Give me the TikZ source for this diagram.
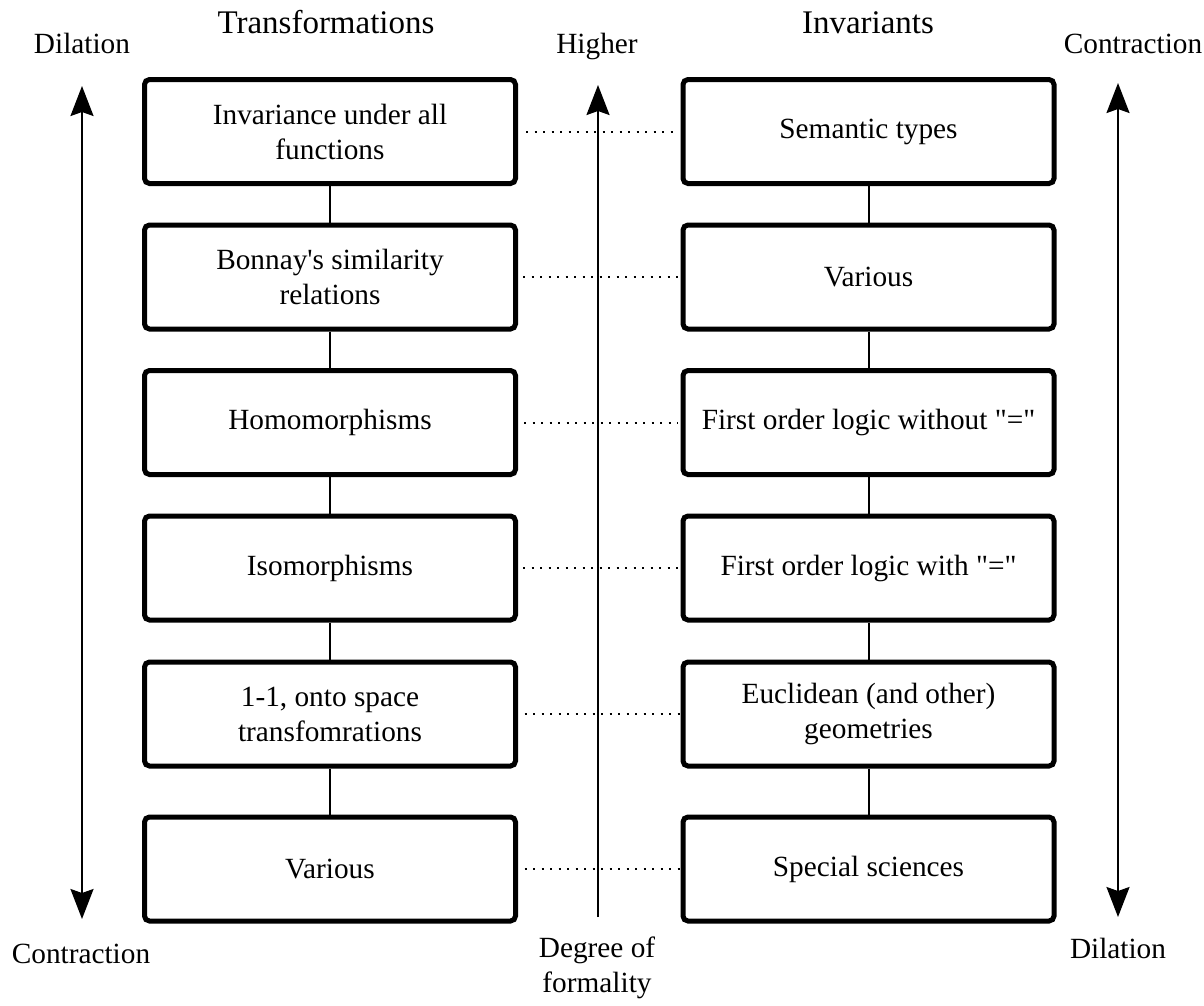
\documentclass[tikz,border=0pt]{standalone}
\usepackage{fontspec}
\setmainfont{Liberation Serif}[Ligatures=TeXOff]
\usetikzlibrary{arrows.meta}
\begin{document}
\begin{tikzpicture}[x=1pt,y=-1pt,
  every node/.style={font=\fontsize{29.3}{35}\selectfont},
  box/.style={draw=black,line width=5pt,rounded corners=5pt,minimum width=371pt,minimum height=104pt,inner sep=0pt,align=center},
  link/.style={draw=black,line width=2pt},
  dots/.style={draw=black,line width=2pt,dash pattern=on 2pt off 6.5pt},
  arr/.style={draw=black,line width=2pt,-{Stealth[length=30pt,width=23pt,inset=4pt]}},
  arrs/.style={draw=black,line width=2pt,{Stealth[length=30pt,width=23pt,inset=4pt]}-{Stealth[length=30pt,width=23pt,inset=4pt]}},
  lbl/.style={anchor=base,inner sep=0pt},
  head/.style={anchor=base,inner sep=0pt,font=\fontsize{33}{39}\selectfont}]
\useasboundingbox (0,0) rectangle (1204,1005);
% left boxes
\node[box] (L1) at (330,131.5) {Invariance under all\\functions};
\node[box] (L2) at (330,277) {Bonnay's similarity\\relations};
\node[box] (L3) at (330,422.5) {Homomorphisms};
\node[box] (L4) at (330,568) {Isomorphisms};
\node[box] (L5) at (330,714) {1-1, onto space\\transfomrations};
\node[box] (L6) at (330,869) {Various};
% right boxes
\node[box] (R1) at (868.5,131.5) {Semantic types};
\node[box] (R2) at (868.5,277) {Various};
\node[box] (R3) at (868.5,422.5) {First order logic without "="};
\node[box] (R4) at (868.5,568) {First order logic with "="};
\node[box] (R5) at (868.5,714) {Euclidean (and other)\\geometries};
\node[box] (R6) at (868.5,869) {Special sciences};
% vertical links
\foreach \a/\b in {1/2,2/3,3/4,4/5,5/6}{
  \draw[link] (L\a.south) -- (L\b.north);
  \draw[link] (R\a.south) -- (R\b.north);
}
% dotted links
\draw[dots] ([xshift=8pt]L1.east) -- ([xshift=-6pt]R1.west);
\draw[dots] ([xshift=5pt]L2.east) -- ([xshift=-3pt]R2.west);
\draw[dots] ([xshift=6pt]L3.east) -- ([xshift=-3pt]R3.west);
\draw[dots] ([xshift=5pt]L4.east) -- ([xshift=-3pt]R4.west);
\draw[dots] ([xshift=-2pt]L5.east) -- ([xshift=0pt]R5.west);
\draw[dots] ([xshift=-2pt]L6.east) -- ([xshift=0pt]R6.west);
% arrows
\coordinate (la1) at (82,86);
\coordinate (la2) at (82,919);
\coordinate (ra1) at (1118,83);
\coordinate (ra2) at (1118,917);
\coordinate (ma0) at (598,917);
\coordinate (ma1) at (598,85);
\draw[arrs] (la1) -- (la2);
\draw[arrs] (ra1) -- (ra2);
\draw[arr] (ma0) -- (ma1);
% labels
\node[head] (tTrans) at (326,33) {Transformations};
\node[head] (tInv) at (868,33) {Invariants};
\node[lbl] (tDil) at (82,53) {Dilation};
\node[lbl] (tHigh) at (597,53) {Higher};
\node[lbl] (tCon) at (1133,53) {Contraction};
\node[lbl] (bCon) at (81,963) {Contraction};
\node[lbl] (bDil) at (1118,958) {Dilation};
\node[inner sep=0pt,align=center] (bDeg) at (597,968) {Degree of\\formality};
\end{tikzpicture}
\end{document}
